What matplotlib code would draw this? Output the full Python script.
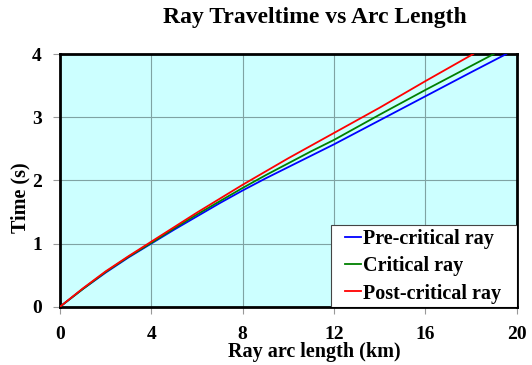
import matplotlib
matplotlib.use("Agg")
import matplotlib.pyplot as plt
from matplotlib.patches import Rectangle

plt.rcParams['font.family'] = ['Liberation Serif', 'DejaVu Serif']
plt.rcParams['font.weight'] = 'bold'

# arc length (km) and traveltime (s)
x_pre = [0, 1, 2, 3, 4, 5, 6, 7, 8, 9, 10, 11, 12, 14, 16, 18, 19.55]
t_pre = [0, 0.28, 0.54, 0.78, 1.00, 1.22, 1.43, 1.64, 1.84, 2.03, 2.21, 2.39, 2.57,
         2.95, 3.33, 3.71, 4.0]

x_crit = [0, 1, 2, 3, 4, 5, 6, 7, 8, 9, 10, 11, 12, 14, 16, 18, 19.0]
t_crit = [0, 0.28, 0.55, 0.79, 1.01, 1.24, 1.46, 1.67, 1.88, 2.08, 2.27, 2.46, 2.64,
          3.04, 3.43, 3.81, 4.0]

x_post = [0, 1, 2, 3, 4, 5, 6, 7, 8, 9, 10, 11, 12, 14, 16, 18.1]
t_post = [0, 0.29, 0.56, 0.80, 1.03, 1.26, 1.49, 1.71, 1.93, 2.14, 2.35, 2.55, 2.75,
          3.15, 3.57, 4.0]

xticks = [0, 4, 8, 12, 16, 20]
yticks = [0, 1, 2, 3, 4]

fig = plt.figure(figsize=(5.32, 3.65), dpi=100)
ax = fig.add_axes([0.1128, 0.1597, 0.8582, 0.6923])
ax.set_facecolor('#CCFFFF')

ax.plot(x_pre, t_pre, color='blue', lw=1.3, label='Pre-critical ray', zorder=3)
ax.plot(x_crit, t_crit, color='green', lw=1.3, label='Critical ray', zorder=3)
ax.plot(x_post, t_post, color='red', lw=1.3, label='Post-critical ray', zorder=3)

ax.set_xlim(0, 20)
ax.set_ylim(0, 4)
ax.set_xticks(xticks)
ax.set_yticks(yticks)
ax.grid(True, color='#7fa3a3', lw=0.8)
ax.set_axisbelow(True)

for s in ax.spines.values():
    s.set_linewidth(2)
    s.set_color('black')

ax.tick_params(direction='out', length=5, width=0.8, color='#999999', labelsize=14)
ax.tick_params(axis='x', pad=9)
ax.tick_params(axis='y', pad=8)
for lab in ax.get_xticklabels() + ax.get_yticklabels():
    lab.set_fontweight('bold')

ax.set_xlabel('Ray arc length (km)', fontsize=14.5, fontweight='bold', va='center')
ax.xaxis.set_label_coords(0.556, -0.179)
ax.set_ylabel('Time (s)', fontsize=14.5, fontweight='bold', va='center')
ax.yaxis.set_label_coords(-0.0876, 0.43)
fig.text(0.592, 0.953, 'Ray Traveltime vs Arc Length', ha='center', va='center',
         fontsize=17, fontweight='bold')

# legend box in the lower right corner
box = Rectangle((0.5934, 0), 0.4066, 0.323, transform=ax.transAxes, facecolor='white',
                edgecolor='#444444', lw=0.8, zorder=4)
ax.add_patch(box)
leg = ax.legend(loc='center left', bbox_to_anchor=(0.624, 0.16), borderaxespad=0,
                fontsize=14.5, handlelength=0.8, handletextpad=0.1, labelspacing=0.36,
                frameon=False, borderpad=0)
leg.set_zorder(5)
for t in leg.get_texts():
    t.set_fontweight('bold')

fig.savefig('out.png', dpi=100)
